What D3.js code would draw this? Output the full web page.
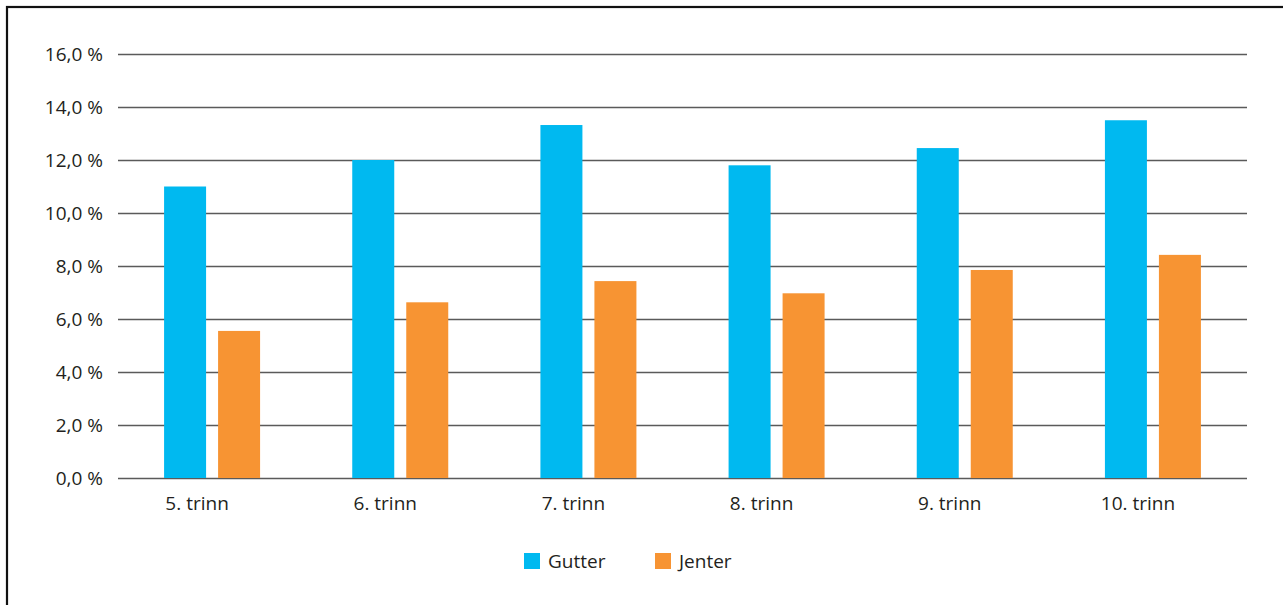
<!DOCTYPE html>
<html><head><meta charset="utf-8">
<script src="https://cdn.jsdelivr.net/npm/d3@7"></script>
<style>body{margin:0;background:#fff;} text{font-family:"Open Sans",sans-serif;fill:#231f20;}</style>
</head><body>
<svg id="c" width="1283" height="605"></svg>
<script>
const categories = ["5. trinn","6. trinn","7. trinn","8. trinn","9. trinn","10. trinn"];
const seriesNames = ["Gutter","Jenter"];
const gutter = [11.0, 12.0, 13.32, 11.8, 12.45, 13.5];
const jenter = [5.55, 6.63, 7.43, 6.97, 7.85, 8.42];
const yTicks = [0,2,4,6,8,10,12,14,16];
const colors = ["#00b9f0","#f79433"];

(function(){
const FS = 19;
const svg = d3.select("#c");
svg.append("rect").attr("x",7).attr("y",7).attr("width",1290).attr("height",620)
  .attr("fill","none").attr("stroke","#111").attr("stroke-width",2.2);

const mLeft=118, mRight=1247, mTop=54, mBottom=478;
const x = d3.scaleBand().domain(categories).range([mLeft,mRight]);
const y = d3.scaleLinear().domain([0,16]).range([mBottom,mTop]);

const g = svg.append("g");
const yAxis = d3.axisLeft(y).tickValues(yTicks).tickSize(-(mRight-mLeft)).tickPadding(15)
  .tickFormat(d => d3.format(".1f")(d).replace(".",",") + " %");
const ya = g.append("g").attr("transform",`translate(${mLeft},0)`).call(yAxis);
ya.select(".domain").remove();
ya.selectAll("line").attr("stroke","#5a5a5a").attr("stroke-width",1.3);
ya.selectAll("text").attr("font-size",FS).style("font-family","'Open Sans',sans-serif").attr("fill","#231f20");

const bw = 42, gap = 12;
const sub = d3.scaleOrdinal().domain(seriesNames).range([-(bw+gap/2), gap/2]);
const data = [gutter, jenter];
seriesNames.forEach((s,si)=>{
  g.selectAll(".b"+si).data(categories).enter().append("rect")
    .attr("x", c => x(c)+x.bandwidth()/2 + sub(s))
    .attr("y", (c,i) => y(data[si][i]))
    .attr("width", bw)
    .attr("height", (c,i) => y(0)-y(data[si][i]))
    .attr("fill", colors[si]);
});

const xAxis = d3.axisBottom(x).tickSize(0).tickPadding(19);
const xa = g.append("g").attr("transform",`translate(0,${mBottom})`).call(xAxis);
xa.select(".domain").remove();
xa.selectAll("text").attr("font-size",FS).attr("dx",-15).style("font-family","'Open Sans',sans-serif").attr("fill","#231f20");

const legX = [524, 655];
seriesNames.forEach((s,i)=>{
  svg.append("rect").attr("x",legX[i]).attr("y",553).attr("width",16).attr("height",16).attr("fill",colors[i]);
  svg.append("text").attr("x",legX[i]+24).attr("y",568).attr("font-size",FS).text(s);
});
})();
</script>
</body></html>
